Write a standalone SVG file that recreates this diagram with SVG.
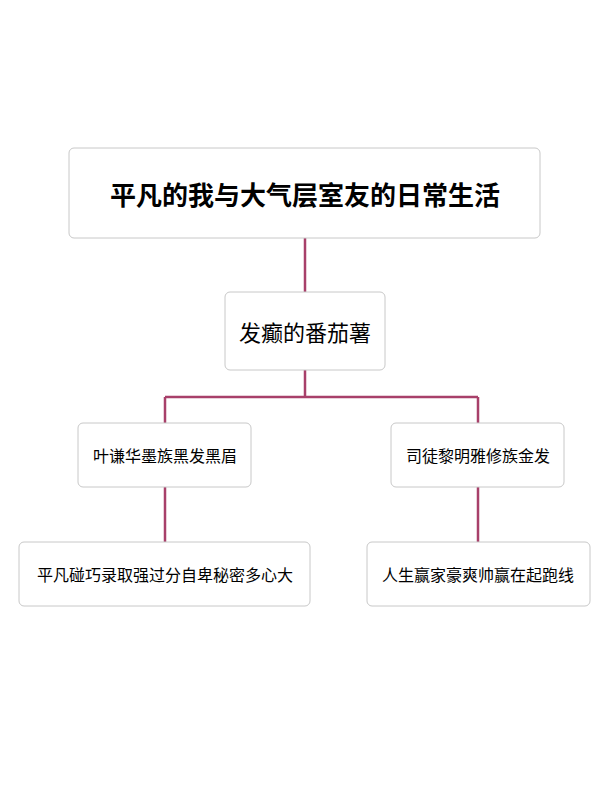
<svg xmlns="http://www.w3.org/2000/svg" width="600" height="800" viewBox="0 0 600 800">
<style>
.box{fill:#fff;stroke:#c8c8c8;stroke-width:1}
.t{font-family:"Noto Sans CJK SC",sans-serif;fill:#000;text-anchor:middle;dominant-baseline:central}
.c{stroke:#a8406a;stroke-width:2.5;fill:none}
</style>
<rect width="600" height="800" fill="#fff"/>
<g id="connectors">
<path class="c" d="M305 238V292M305 370V397M165 397H478M165 397V423M478 397V423M165 487V542M478 487V542"/>
</g>
<g id="root"><rect class="box" x="69" y="148" width="471" height="90" rx="5"/><text class="t" x="305" y="193" font-size="26" font-weight="bold">平凡的我与大气层室友的日常生活</text></g>
<g id="n1"><rect class="box" x="225" y="292" width="160" height="78" rx="5"/><text class="t" x="305" y="331" font-size="22">发癫的番茄薯</text></g>
<g id="n2"><rect class="box" x="78" y="423" width="173" height="64" rx="5"/><text class="t" x="165" y="455" font-size="16">叶谦华墨族黑发黑眉</text></g>
<g id="n3"><rect class="box" x="391" y="423" width="173" height="64" rx="5"/><text class="t" x="478" y="455" font-size="16">司徒黎明雅修族金发</text></g>
<g id="n4"><rect class="box" x="19" y="542" width="291" height="64" rx="5"/><text class="t" x="165" y="574" font-size="16">平凡碰巧录取强过分自卑秘密多心大</text></g>
<g id="n5"><rect class="box" x="367" y="542" width="223" height="64" rx="5"/><text class="t" x="478" y="574" font-size="16">人生赢家豪爽帅赢在起跑线</text></g>
</svg>
